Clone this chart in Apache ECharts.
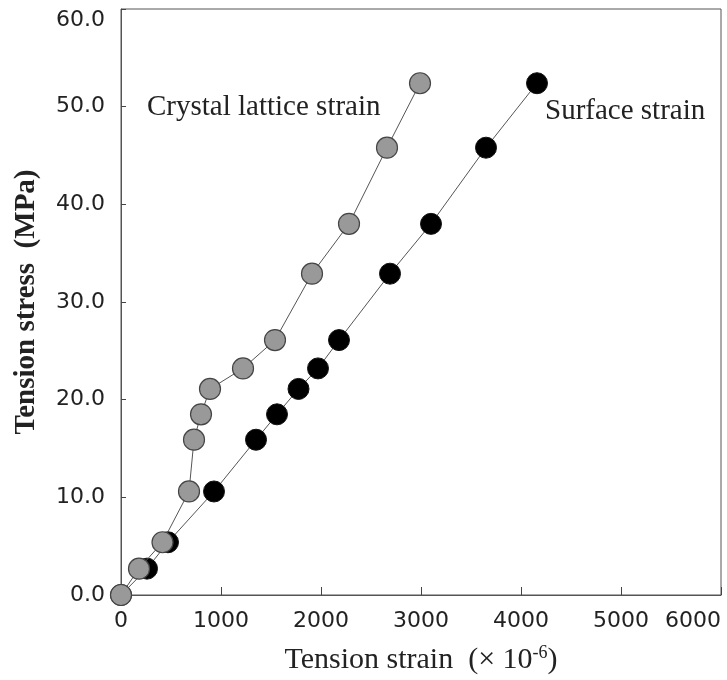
<!DOCTYPE html>
<html>
<head>
<meta charset="utf-8">
<script src="https://cdn.jsdelivr.net/npm/echarts@6/dist/echarts.min.js"></script>
<style>
    html, body { margin: 0; padding: 0; background: #fff; }
    #chart { width: 727px; height: 680px; }
</style>
</head>
<body>
<div id="chart"></div>
<script>
// strain (x10^-6) and stress (MPa)
const crystalStrain = [0, 180, 415, 680, 730, 800, 890, 1220, 1540, 1910, 2280, 2660, 2990]
const crystalStress = [0, 2.7, 5.4, 10.6, 15.9, 18.5, 21.1, 23.2, 26.1, 32.9, 38.0, 45.8, 52.4]

const surfaceStrain = [0, 260, 470, 930, 1350, 1560, 1775, 1970, 2180, 2690, 3100, 3650, 4160]
const surfaceStress = [0, 2.7, 5.4, 10.6, 15.9, 18.5, 21.1, 23.2, 26.1, 32.9, 38.0, 45.8, 52.4]

const xTicks = [0, 1000, 2000, 3000, 4000, 5000, 6000]
const yTicks = [0, 10, 20, 30, 40, 50, 60]

const serif = '"Liberation Serif", "DejaVu Serif", serif'
const sans = '"DejaVu Sans", Verdana, sans-serif'

const pairs = (xs, ys) => xs.map((x, i) => [x, ys[i]])

const chart = echarts.init(document.getElementById('chart'))

const option = {
    animation: false,
    backgroundColor: '#fff',
    textStyle: { fontFamily: serif },
    grid: {
        left: 121,
        right: 6,
        top: 9,
        bottom: 84,
        show: true,
        borderColor: '#555',
        borderWidth: 1
    },
    xAxis: {
        type: 'value',
        min: xTicks[0],
        max: xTicks[xTicks.length - 1],
        interval: 1000,
        name: 'Tension strain  (\u00d7 10{sup|-6})',
        nameLocation: 'middle',
        nameGap: 49,
        nameTextStyle: {
            fontFamily: serif,
            fontSize: 30,
            color: '#222',
            rich: {
                sup: { fontFamily: serif, fontSize: 18, color: '#222', padding: [0, 0, 14, 0] }
            }
        },
        axisLine: { lineStyle: { color: '#555', width: 1 } },
        axisTick: { inside: true, length: 8, lineStyle: { color: '#444' } },
        splitLine: { show: false },
        axisLabel: {
            fontFamily: sans,
            fontSize: 22,
            color: '#222',
            margin: 15,
            formatter: (v) => String(v),
            alignMaxLabel: 'right'
        }
    },
    yAxis: {
        type: 'value',
        min: yTicks[0],
        max: yTicks[yTicks.length - 1],
        interval: 10,
        name: 'Tension stress  (MPa)',
        nameLocation: 'middle',
        nameGap: 80,
        nameTextStyle: {
            fontFamily: serif,
            fontSize: 29,
            fontWeight: 'bold',
            color: '#222'
        },
        axisLine: { lineStyle: { color: '#555', width: 1 } },
        axisTick: { inside: true, length: 5, lineStyle: { color: '#444' } },
        splitLine: { show: false },
        axisLabel: {
            fontFamily: sans,
            fontSize: 22,
            color: '#222',
            margin: 16,
            formatter: (v) => v.toFixed(1),
            verticalAlignMaxLabel: 'top'
        }
    },
    series: [
        {
            name: 'Surface strain',
            type: 'line',
            data: pairs(surfaceStrain, surfaceStress),
            symbol: 'circle',
            symbolSize: 21,
            lineStyle: { color: '#555', width: 1 },
            itemStyle: { color: '#000', borderColor: '#111', borderWidth: 1 },
            z: 2
        },
        {
            name: 'Crystal lattice strain',
            type: 'line',
            data: pairs(crystalStrain, crystalStress),
            symbol: 'circle',
            symbolSize: 21,
            lineStyle: { color: '#555', width: 1 },
            itemStyle: { color: '#999', borderColor: '#444', borderWidth: 1.2 },
            z: 3
        }
    ],
    graphic: [
        {
            type: 'text',
            left: 147,
            top: 93,
            style: { text: 'Crystal lattice strain', fontFamily: serif, fontSize: 29, fill: '#222' }
        },
        {
            type: 'text',
            left: 545,
            top: 97,
            style: { text: 'Surface strain', fontFamily: serif, fontSize: 29, fill: '#222' }
        }
    ]
}

chart.setOption(option)
</script>
</body>
</html>
